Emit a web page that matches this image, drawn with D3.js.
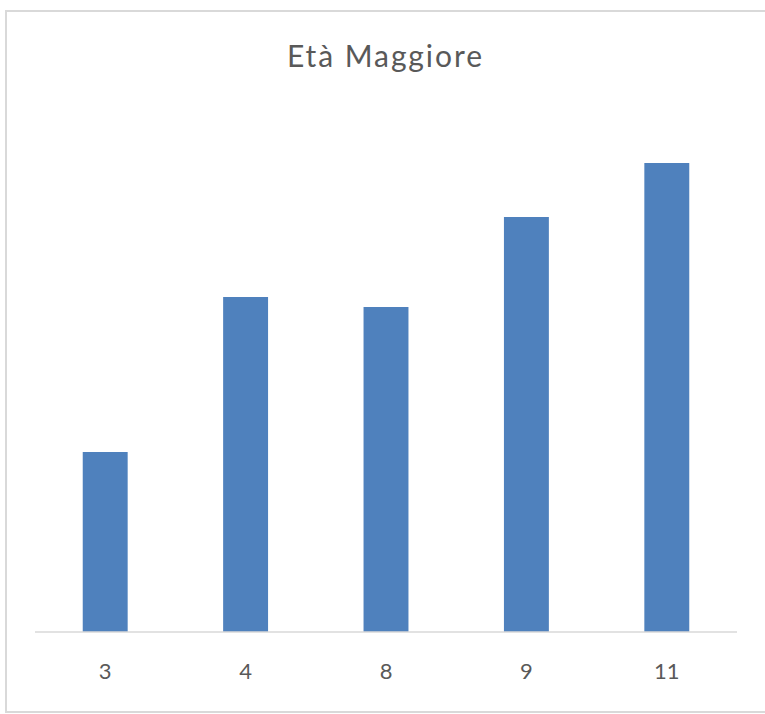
<!DOCTYPE html>
<html>
<head>
<meta charset="utf-8">
<script src="https://cdn.jsdelivr.net/npm/d3@7"></script>
<style>
html,body{margin:0;padding:0;background:#fff;}
svg{display:block;}
</style>
</head>
<body>
<script>
const title = "Età Maggiore";
const categories = ["3", "4", "8", "9", "11"];
const values = [3.6, 6.7, 6.5, 8.3, 9.38];
const yMax = 10;

const W = 765, H = 714;
const svg = d3.select("body").append("svg").attr("width", W).attr("height", H);

svg.append("rect").attr("x", 0).attr("y", 0).attr("width", W).attr("height", H).attr("fill", "#fff");
// chart border
svg.append("rect")
  .attr("x", 6).attr("y", 11).attr("width", 780).attr("height", 701)
  .attr("fill", "none").attr("stroke", "#d9d9d9").attr("stroke-width", 2);

const plotLeft = 35, plotRight = 737, baseY = 632, topY = 132;

const x = d3.scaleBand().domain(categories).range([plotLeft, plotRight]).paddingInner(0.68).paddingOuter(0.34);
const y = d3.scaleLinear().domain([0, yMax]).range([baseY, topY]);

svg.append("g").selectAll("rect").data(categories).join("rect")
  .attr("x", d => x(d))
  .attr("width", x.bandwidth())
  .attr("y", (d, i) => y(values[i]))
  .attr("height", (d, i) => y(0) - y(values[i]))
  .attr("fill", "#4f81bd");

const xAxis = d3.axisBottom(x).tickSize(0).tickPadding(0);
const gx = svg.append("g").attr("transform", `translate(0,${baseY})`).call(xAxis);
gx.select(".domain").attr("stroke", "#d9d9d9").attr("stroke-width", 1.5)
  .attr("d", `M${plotLeft},0H${plotRight}`);
gx.selectAll(".tick text")
  .attr("y", 47)
  .attr("dy", null)
  .attr("font-family", "Lato, 'Open Sans', sans-serif")
  .attr("font-size", 22)
  .attr("fill", "#595959");

svg.append("text")
  .attr("x", (287 + 482) / 2).attr("y", 67)
  .attr("text-anchor", "middle")
  .attr("font-family", "Lato, 'Open Sans', sans-serif")
  .attr("font-size", 30)
  .attr("fill", "#595959")
  .attr("textLength", 195)
  .attr("lengthAdjust", "spacing")
  .text(title);
</script>
</body>
</html>
